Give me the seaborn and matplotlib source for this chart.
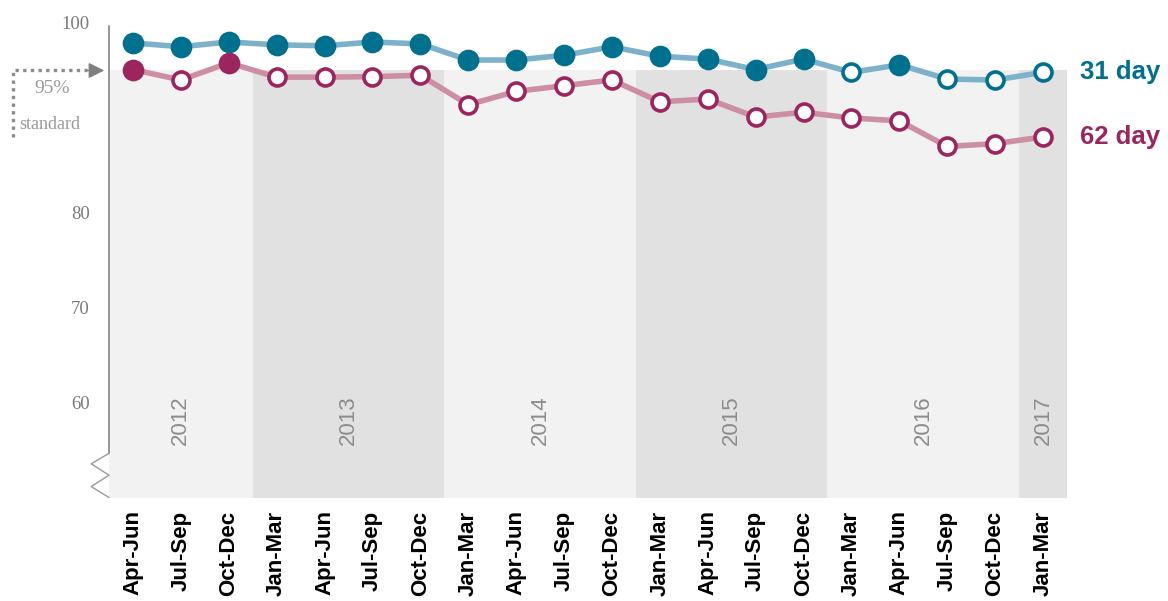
import matplotlib
matplotlib.use('Agg')
import matplotlib.pyplot as plt
import pandas as pd
import seaborn as sns

# Quarterly data, Apr-Jun 2012 .. Jan-Mar 2017
quarters = (['Apr-Jun', 'Jul-Sep', 'Oct-Dec']
            + ['Jan-Mar', 'Apr-Jun', 'Jul-Sep', 'Oct-Dec'] * 4
            + ['Jan-Mar'])
years = [2012] * 3 + [2013] * 4 + [2014] * 4 + [2015] * 4 + [2016] * 4 + [2017]

day31 = [97.9, 97.5, 98.0, 97.7, 97.6, 98.0, 97.8, 96.1, 96.1, 96.6,
         97.5, 96.5, 96.2, 95.1, 96.2, 94.8, 95.6, 94.1, 94.0, 94.8]
day62 = [95.1, 94.0, 95.8, 94.3, 94.3, 94.35, 94.5, 91.4, 92.8, 93.4,
         94.0, 91.7, 92.0, 90.1, 90.6, 90.0, 89.7, 87.0, 87.3, 88.0]
standard = 95
yticks = [60, 70, 80, 100]

series_names = ['31 day', '62 day']
marker_colors = {'31 day': '#00708f', '62 day': '#9c2560'}
line_colors = {'31 day': '#7db0c9', '62 day': '#cc8ea3'}

df = pd.DataFrame({
    'pos': list(range(len(quarters))) * 2,
    'value': day31 + day62,
    'series': ['31 day'] * len(day31) + ['62 day'] * len(day62),
})
df['met'] = df['value'] >= standard

sns.set_style('white')
plt.rcParams['font.family'] = ['Liberation Sans', 'DejaVu Sans']

fig = plt.figure(figsize=(11.68, 6.01), dpi=100)
ax = fig.add_axes([0.0933, 0.1714, 0.8202, 0.8286])

n = len(quarters)
ax.set_xlim(-0.5, n - 0.5)
ax.set_ylim(50, 102.42)

# Alternating year bands below the standard line
year_list = sorted(set(years))
for k, yr in enumerate(year_list):
    idx = [i for i, y in enumerate(years) if y == yr]
    x0, x1 = idx[0] - 0.5, idx[-1] + 0.5
    ax.fill_between([x0, x1], 50, standard,
                    color='#f2f2f2' if k % 2 == 0 else '#e1e1e1',
                    lw=0, zorder=0)
    ax.text((x0 + x1) / 2, 58.2, str(yr), rotation=90, ha='center',
            va='center', color='#8c8c8c', fontsize=16, zorder=1)

# Lines
sns.lineplot(data=df, x='pos', y='value', hue='series', palette=line_colors,
             linewidth=4, legend=False, ax=ax, zorder=2)

# Markers: filled when standard met, hollow otherwise
for name in series_names:
    sub = df[df['series'] == name]
    ax.scatter(sub.loc[sub['met'], 'pos'], sub.loc[sub['met'], 'value'],
               s=180, color=marker_colors[name], edgecolors=marker_colors[name],
               linewidths=2.2, zorder=4)
    ax.scatter(sub.loc[~sub['met'], 'pos'], sub.loc[~sub['met'], 'value'],
               s=150, facecolors='white', edgecolors=marker_colors[name],
               linewidths=2.6, zorder=4)
    ax.text(n - 1 + 0.77, sub['value'].iloc[-1], name, ha='left', va='center',
            fontsize=18.5, fontweight='bold', color=marker_colors[name])

# Axes styling
for side in ['top', 'right', 'bottom', 'left']:
    ax.spines[side].set_visible(False)
ax.set_xticks(range(n))
ax.set_xticklabels(quarters, rotation=90, fontsize=16, fontweight='bold',
                   color='black', va='top')
ax.tick_params(axis='x', length=0, pad=9)
ax.set_yticks(yticks)
ax.set_yticklabels([str(t) for t in yticks], fontsize=13.5, color='#7a7a7a',
                   family=['Liberation Serif'])
ax.tick_params(axis='y', length=0, pad=14)
ax.set_xlabel('')
ax.set_ylabel('')
ax.grid(False)

# Left axis line with a zig-zag break at the bottom
ax.plot([-0.5, -0.5], [54.7, 99.7], color='#8c8c8c', lw=1.3, clip_on=False,
        zorder=3)
zx = [-0.5, -0.87, -0.5, -0.87, -0.5]
zy = [54.7, 53.6, 52.4, 51.2, 50.05]
ax.plot(zx, zy, color='#9a9a9a', lw=1.0, clip_on=False, zorder=3)

# 95% standard marker on the left
ax.plot([-2.5, -2.5, -0.95], [88.0, standard, standard], color='#8c8c8c',
        lw=2.4, ls=(0, (1, 1.3)), clip_on=False)
ax.annotate('', xy=(-0.6, standard), xytext=(-0.95, standard),
            arrowprops=dict(arrowstyle='-|>', color='#7f7f7f', lw=1,
                            mutation_scale=24, shrinkA=0, shrinkB=0),
            annotation_clip=False)
ax.text(-1.69, 93.1, '95%', ha='center', va='center', fontsize=14,
        color='#9a9a9a', family=['Liberation Serif'])
ax.text(-2.37, 89.3, 'standard', ha='left', va='center', fontsize=13,
        color='#9a9a9a', family=['Liberation Serif'])

fig.savefig('out.png', dpi=100)
